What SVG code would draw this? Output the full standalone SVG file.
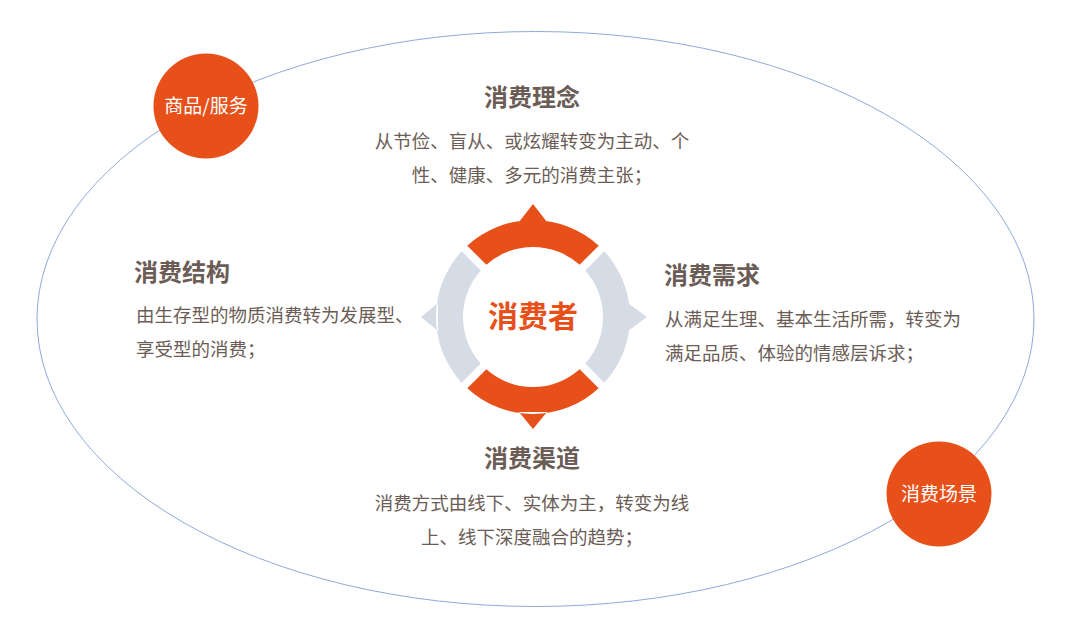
<svg xmlns="http://www.w3.org/2000/svg" width="1072" height="632" viewBox="0 0 1072 632">
<style>
.ttl{font-family:"Microsoft YaHei","Noto Sans CJK SC",sans-serif;font-weight:bold;font-size:24px;fill:#6B5D56}
.body{font-family:"Microsoft YaHei","Noto Sans CJK SC",sans-serif;font-size:18.5px;fill:#6B5D56}
.mid{text-anchor:middle}
.badge{fill:#E8501A}
.btxt{font-family:"Microsoft YaHei","Noto Sans CJK SC",sans-serif;font-size:19px;fill:#FFFFFF;text-anchor:middle}
.org{fill:#E8501A}
.gry{fill:#D5DCE6}
</style>
<rect width="1072" height="632" fill="#FFFFFF"/>
<g id="connectors">
<ellipse cx="535.5" cy="319" rx="498.5" ry="287.5" fill="none" stroke="#8EAADB" stroke-width="1"/>
</g>
<g id="ring">
<path class="org" d="M467.30 245.64 A97 97 0 0 1 598.70 245.64 L579.59 264.75 A70 70 0 0 0 486.41 264.75 Z M519 222 L533 204 L547 222 Z"/>
<path class="gry" d="M604.36 251.30 A97 97 0 0 1 604.36 382.70 L585.25 363.59 A70 70 0 0 0 585.25 270.41 Z M628 303 L647 317 L628 331 Z"/>
<path class="org" d="M598.70 388.36 A97 97 0 0 1 467.30 388.36 L486.41 369.25 A70 70 0 0 0 579.59 369.25 Z M519 412 L533 429 L547 412 Z"/>
<path class="gry" d="M461.64 382.70 A97 97 0 0 1 461.64 251.30 L480.75 270.41 A70 70 0 0 0 480.75 363.59 Z M438 303 L421 317 L438 331 Z"/>
</g>
<g id="center">
<text x="533" y="327" text-anchor="middle" font-family="Microsoft YaHei,Noto Sans CJK SC,sans-serif" font-weight="bold" font-size="30" fill="#E8501A">消费者</text>
</g>
<g id="goods">
<circle class="badge" cx="206" cy="106" r="52.5"/>
<text class="btxt" x="206" y="113">商品/服务</text>
</g>
<g id="scene">
<circle class="badge" cx="939" cy="494" r="52.5"/>
<text class="btxt" x="939" y="501">消费场景</text>
</g>
<g id="concept">
<text class="ttl mid" x="532" y="106">消费理念</text>
<text class="body mid" x="532" y="148">从节俭、盲从、或炫耀转变为主动、个</text>
<text class="body mid" x="532" y="182">性、健康、多元的消费主张；</text>
</g>
<g id="structure">
<text class="ttl" x="134" y="281">消费结构</text>
<text class="body" x="136" y="322">由生存型的物质消费转为发展型、</text>
<text class="body" x="136" y="356">享受型的消费；</text>
</g>
<g id="demand">
<text class="ttl" x="664" y="284">消费需求</text>
<text class="body" x="665" y="326">从满足生理、基本生活所需，转变为</text>
<text class="body" x="665" y="360">满足品质、体验的情感层诉求；</text>
</g>
<g id="channel">
<text class="ttl mid" x="532" y="467">消费渠道</text>
<text class="body mid" x="532" y="510">消费方式由线下、实体为主，转变为线</text>
<text class="body mid" x="532" y="544">上、线下深度融合的趋势；</text>
</g>
</svg>
